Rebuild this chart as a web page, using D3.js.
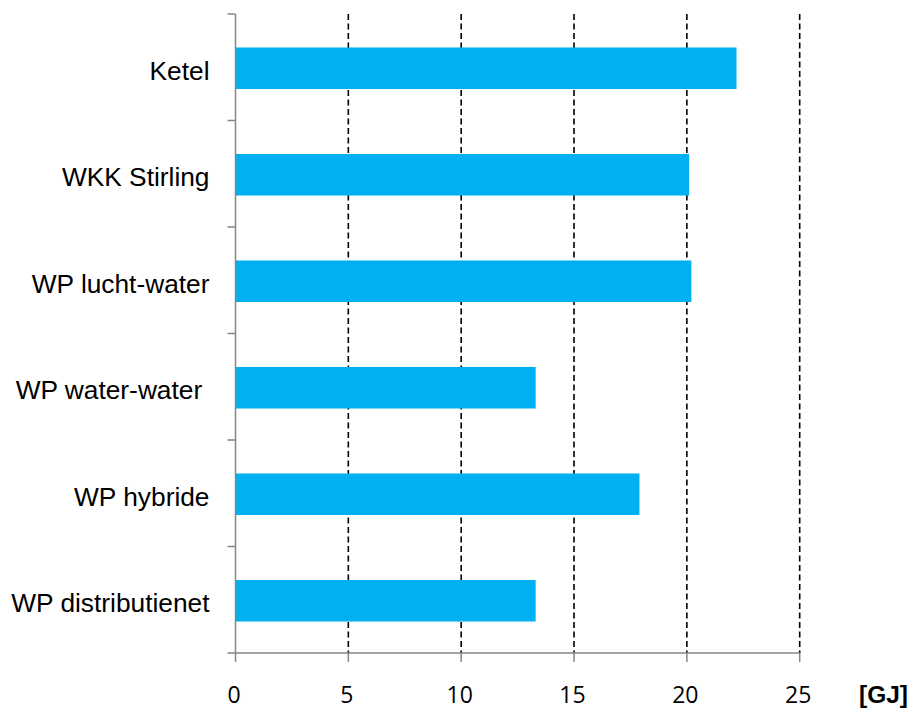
<!DOCTYPE html>
<html>
<head>
<meta charset="utf-8">
<script src="https://cdn.jsdelivr.net/npm/d3@7"></script>
<style>
  html, body { margin: 0; padding: 0; background: #fff; }
  svg { display: block; }
</style>
</head>
<body>
<svg id="chart" width="914" height="709"></svg>
<script>
// Heat demand per installation type, in GJ
const categories = ["Ketel", "WKK Stirling", "WP lucht-water", "WP water-water ", "WP hybride", "WP distributienet"];
const values = [22.2, 20.1, 20.2, 13.3, 17.9, 13.3];
const xTicks = [0, 5, 10, 15, 20, 25];
const unitLabel = "[GJ]";

const svg = d3.select("#chart");
const plotLeft = 235.5, plotRight = 799.7, plotTop = 14, plotBottom = 653;
const axisColor = "#868686";

const x = d3.scaleLinear().domain([0, 25]).range([plotLeft, plotRight]);
const y = d3.scaleBand().domain(categories).range([plotTop, plotBottom])
  .paddingInner(0.61).paddingOuter(0.305);

// dashed vertical gridlines
svg.append("g").selectAll("line")
  .data(xTicks.filter(d => d > 0))
  .join("line")
  .attr("x1", d => x(d)).attr("x2", d => x(d))
  .attr("y1", plotTop).attr("y2", plotBottom)
  .attr("stroke", "#000").attr("stroke-width", 1.6)
  .attr("stroke-dasharray", "6,3.5");

// bars
svg.append("g").selectAll("rect")
  .data(categories)
  .join("rect")
  .attr("x", x(0))
  .attr("y", d => y(d) + 1)
  .attr("width", (d, i) => x(values[i]) - x(0))
  .attr("height", y.bandwidth())
  .attr("fill", "#00B0F0");

// category axis: line plus boundary ticks between categories
const yAxis = svg.append("g");
yAxis.append("line")
  .attr("x1", plotLeft).attr("x2", plotLeft).attr("y1", plotTop).attr("y2", plotBottom)
  .attr("stroke", axisColor).attr("stroke-width", 1.5);
const boundaries = d3.range(categories.length + 1).map(i => plotTop + i * y.step());
yAxis.selectAll("line.tick").data(boundaries).join("line")
  .attr("class", "tick")
  .attr("x1", plotLeft - 8).attr("x2", plotLeft)
  .attr("y1", d => d).attr("y2", d => d)
  .attr("stroke", axisColor).attr("stroke-width", 1.5);
yAxis.selectAll("text").data(categories).join("text")
  .attr("x", 209.5)
  .attr("y", d => y(d) + y.bandwidth() / 2 + 12.5)
  .attr("text-anchor", "end")
  .style("white-space", "pre")
  .attr("font-family", "Liberation Sans, Arial, sans-serif")
  .attr("font-size", 26.3)
  .attr("fill", "#000")
  .text(d => d);

// value axis
const xAxis = svg.append("g");
xAxis.append("line")
  .attr("x1", plotLeft).attr("x2", plotRight).attr("y1", plotBottom).attr("y2", plotBottom)
  .attr("stroke", axisColor).attr("stroke-width", 1.5);
xAxis.selectAll("line.tick").data(xTicks).join("line")
  .attr("class", "tick")
  .attr("x1", d => x(d)).attr("x2", d => x(d))
  .attr("y1", plotBottom).attr("y2", plotBottom + 9)
  .attr("stroke", axisColor).attr("stroke-width", 1.5);
xAxis.selectAll("text").data(xTicks).join("text")
  .attr("x", d => x(d) - 1.5)
  .attr("y", 703)
  .attr("text-anchor", "middle")
  .attr("font-family", "Open Sans, sans-serif")
  .attr("font-size", 23)
  .attr("fill", "#000")
  .text(d => d);

// unit label
svg.append("text")
  .attr("x", 908).attr("y", 703)
  .attr("text-anchor", "end")
  .attr("font-family", "Liberation Sans, Arial, sans-serif")
  .attr("font-weight", "bold")
  .attr("font-size", 24.5)
  .attr("fill", "#000")
  .text(unitLabel);
</script>
</body>
</html>
